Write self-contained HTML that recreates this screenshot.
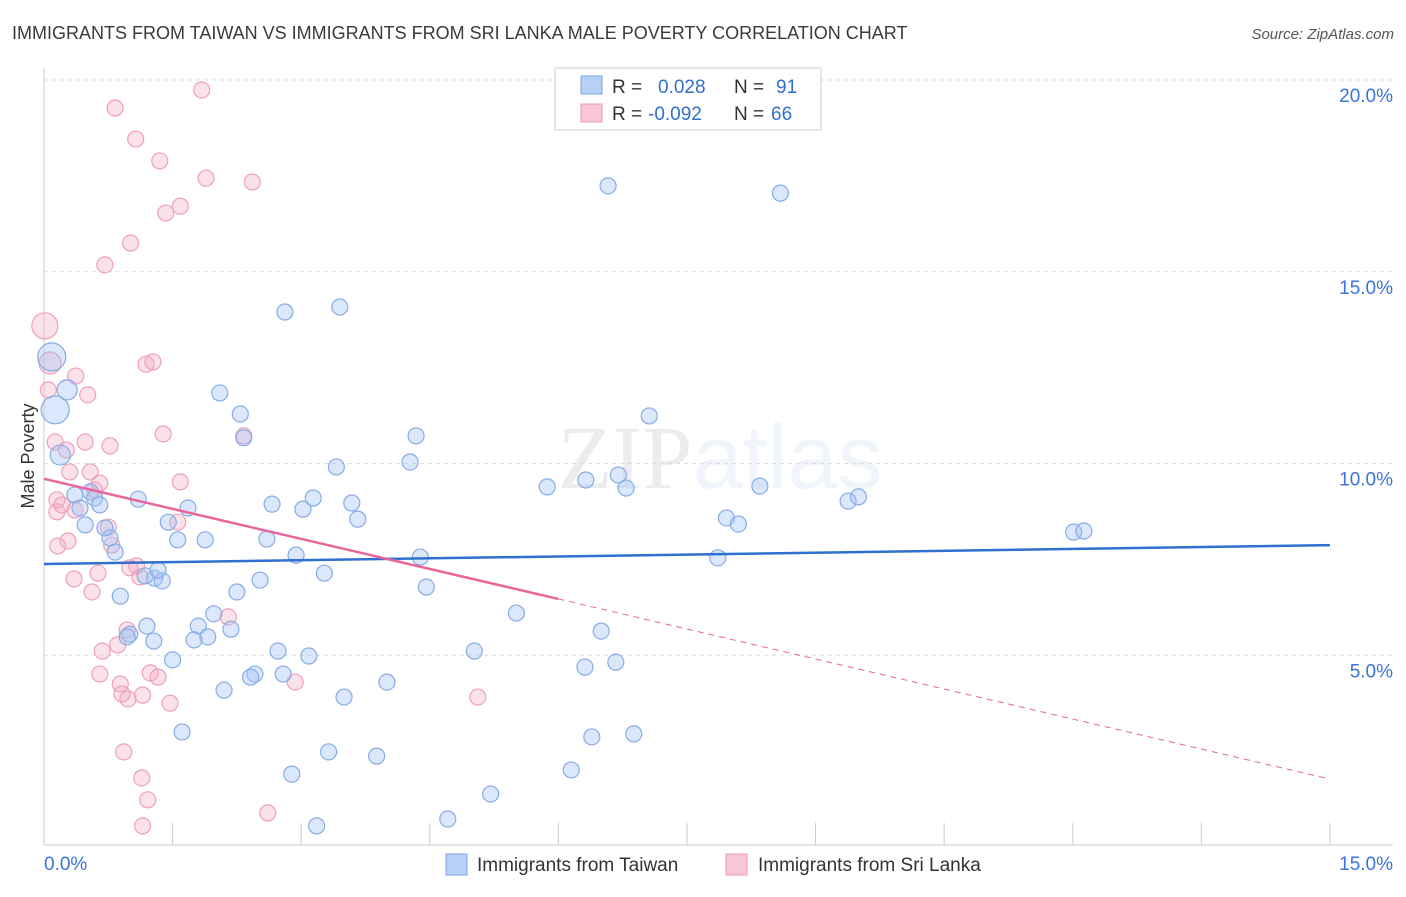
<!DOCTYPE html>
<html><head><meta charset="utf-8"><style>
body{margin:0;background:#fff;font-family:"Liberation Sans",sans-serif;}
</style></head><body>
<svg id="chart" width="1406" height="892" xmlns="http://www.w3.org/2000/svg" font-family="Liberation Sans, sans-serif">
<text x="12" y="39" font-size="18" fill="#3a3a3a">IMMIGRANTS FROM TAIWAN VS IMMIGRANTS FROM SRI LANKA MALE POVERTY CORRELATION CHART</text>
<text x="1394" y="39" font-size="15" fill="#555" text-anchor="end" font-style="italic">Source: ZipAtlas.com</text>
<text x="720" y="488" font-size="90" text-anchor="middle" fill="#000" opacity="0.07" font-family="Liberation Serif, serif">ZIP<tspan fill="#3a74d8" opacity="1" font-family="Liberation Sans, sans-serif">atlas</tspan></text>
<text transform="translate(34,456) rotate(-90)" font-size="18" fill="#333" text-anchor="middle">Male Poverty</text>
<g id="grid"></g><g id="pts"></g><g id="lines"></g>
<g>
<rect x="555" y="68" width="266" height="62" fill="#fff" stroke="#ccc"/>
<rect x="581" y="76" width="21" height="18" fill="#b8d0f5" stroke="#7aa3e0"/>
<rect x="581" y="104" width="21" height="18" fill="#f8c6d6" stroke="#ea9ab6"/>
<text x="612" y="93" font-size="19" fill="#333">R = <tspan fill="#2f6fd0" x="658">0.028</tspan><tspan x="734" fill="#333">N = </tspan><tspan fill="#2f6fd0" x="776">91</tspan></text>
<text x="612" y="120" font-size="19" fill="#333">R = <tspan fill="#2f6fd0" x="648">-0.092</tspan><tspan x="734" fill="#333">N = </tspan><tspan fill="#2f6fd0" x="771">66</tspan></text>
</g>
<g>
<rect x="446" y="854" width="21" height="21" fill="#b8d0f5" stroke="#7aa3e0"/>
<text x="477" y="871" font-size="19" fill="#333">Immigrants from Taiwan</text>
<rect x="726" y="854" width="21" height="21" fill="#f8c6d6" stroke="#ea9ab6"/>
<text x="758" y="871" font-size="19" fill="#333">Immigrants from Sri Lanka</text>
</g>
</svg>
<script>
const yTicks=[5,10,15,20];
const yTickLabels=["5.0%","10.0%","15.0%","20.0%"];
const xTickLabels=["0.0%","15.0%"];
const twX=[0.09,0.13,0.27,0.19,0.36,0.54,0.59,0.65,0.48,0.42,0.77,0.83,0.71,1.10,0.89,1.45,1.56,1.68,1.88,2.05,2.29,2.33,2.66,2.81,3.45,3.02,3.14,3.59,3.66,3.41,4.27,4.34,2.60,2.94,3.27,4.39,4.46,2.52,2.25,1.98,1.80,1.91,1.75,2.18,1.29,1.38,1.18,1.33,1.20,1.00,0.97,1.28,1.50,2.73,3.09,2.46,2.41,2.79,2.10,3.50,4.00,1.61,2.89,3.32,3.88,3.18,4.71,5.21,5.02,5.51,5.87,6.32,6.70,6.79,7.06,6.58,8.59,6.50,6.31,6.67,6.39,6.88,6.15,7.86,7.96,8.10,8.35,9.38,9.50,12.01,12.13];
const twY=[12.78,11.40,11.92,10.22,9.18,9.26,9.10,8.92,8.40,8.84,8.06,7.69,8.32,9.07,6.54,8.47,8.01,8.84,8.01,11.84,11.29,10.67,8.94,13.95,14.08,8.81,9.10,8.97,8.55,9.91,10.04,10.72,8.03,7.61,7.14,7.56,6.78,6.96,6.65,6.08,5.76,5.48,5.40,5.68,7.01,6.94,7.07,7.22,5.76,5.55,5.48,5.37,4.88,5.11,4.98,4.51,4.43,4.51,4.09,3.91,4.30,3.00,1.90,2.48,2.37,0.55,0.73,1.38,5.11,6.10,9.39,9.57,9.70,9.36,11.24,17.24,17.05,5.63,4.69,4.82,2.87,2.95,2.01,7.54,8.58,8.42,9.41,9.02,9.13,8.21,8.24];
const slX=[0.01,0.07,0.05,0.13,0.15,0.15,0.21,0.26,0.30,0.36,0.37,0.51,0.48,0.54,0.59,0.65,0.75,0.79,0.28,0.16,0.35,0.56,0.63,0.68,0.65,0.86,0.89,0.97,0.98,0.91,1.08,1.12,1.15,1.24,1.33,1.47,0.93,1.14,1.21,1.15,2.61,2.93,2.15,2.33,1.59,1.56,1.39,1.27,1.19,0.83,1.07,1.35,1.84,2.43,1.89,1.59,1.42,1.01,0.71,0.77,5.06,1.00];
const slY=[13.59,12.62,11.92,10.56,9.05,8.74,8.92,10.35,9.78,8.79,12.28,11.79,10.56,9.78,9.31,9.49,8.34,7.87,7.98,7.85,6.99,6.65,7.14,5.11,4.51,5.27,4.25,5.66,3.86,3.99,7.33,7.04,3.96,4.54,4.43,3.75,2.48,1.80,1.23,0.55,0.89,4.30,6.00,10.72,9.52,8.47,10.77,12.65,12.59,19.27,18.46,17.89,19.74,17.34,17.44,16.71,16.53,15.75,15.18,10.46,3.91,7.28];
const twTrend=[7.38,7.87];
const slTrend=[9.60,1.77];
const NS="http://www.w3.org/2000/svg";
const xs=v=>44+v*85.73, ys=v=>847-v*38.35;
function mk(tag,attrs,parent){const e=document.createElementNS(NS,tag);for(const k in attrs)e.setAttribute(k,attrs[k]);parent.appendChild(e);return e;}
const grid=document.getElementById('grid');
yTicks.forEach((t,i)=>{
 const l=mk('line',{x1:44,x2:1393,y1:ys(t),y2:ys(t),stroke:'#ddd','stroke-dasharray':'4,4'},grid);
 
 
 const tx=mk('text',{x:1393,y:ys(t)+22,'font-size':19,fill:'#3a74d8','text-anchor':'end'},grid);
 tx.textContent=yTickLabels[i];
 
 
});
const ax=mk('line',{x1:44,x2:1393,y1:845,y2:845,stroke:'#ccc'},grid);


const ay=mk('line',{x1:44,x2:44,y1:68,y2:845,stroke:'#ccc'},grid);


for(let i=0;i<=10;i++){const t=mk('line',{x1:xs(i*1.5),x2:xs(i*1.5),y1:823,y2:845,stroke:'#ccc'},grid);
 
 }
const xl0=mk('text',{x:44,y:870,'font-size':19,fill:'#3a74d8'},grid);xl0.textContent=xTickLabels[0];


const xl1=mk('text',{x:1393,y:870,'font-size':19,fill:'#3a74d8','text-anchor':'end'},grid);xl1.textContent=xTickLabels[1];


const pts=document.getElementById('pts');
slX.forEach((x,i)=>{const c=mk('circle',{cx:xs(x),cy:ys(slY[i]),r:i<2?(i==0?13:11):8,fill:'rgba(244,170,195,0.35)',stroke:'#eea0bb','stroke-width':1.2},pts);
 
 });
twX.forEach((x,i)=>{const c=mk('circle',{cx:xs(x),cy:ys(twY[i]),r:i<2?14:(i<4?10:8),fill:'rgba(164,194,244,0.4)',stroke:'#86ace6','stroke-width':1.2},pts);
 
 });
const lines=document.getElementById('lines');
const bl=mk('line',{x1:xs(0),y1:ys(twTrend[0]),x2:xs(15),y2:ys(twTrend[1]),stroke:'#2f6fd0','stroke-width':2.5},lines);


const slope=(slTrend[1]-slTrend[0])/15;
const p1=mk('line',{x1:xs(0),y1:ys(slTrend[0]),x2:xs(6),y2:ys(slTrend[0]+slope*6),stroke:'#e8669a','stroke-width':2.5},lines);


const p2=mk('line',{x1:xs(6),y1:ys(slTrend[0]+slope*6),x2:xs(15),y2:ys(slTrend[1]),stroke:'#e8669a','stroke-width':1,'stroke-dasharray':'6,5'},lines);


</script>
</body></html>
